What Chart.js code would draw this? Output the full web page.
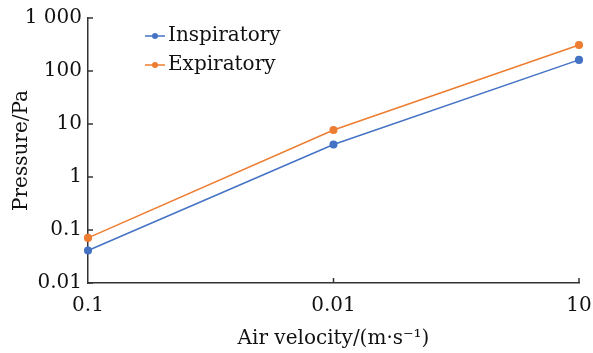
<!DOCTYPE html>
<html>
<head>
<meta charset="utf-8">
<script src="https://cdn.jsdelivr.net/npm/chart.js@4/dist/chart.umd.min.js"></script>
<style>
  html, body { margin: 0; padding: 0; background: #fff; }
  #wrap { width: 593px; height: 353px; }
</style>
</head>
<body>
<div id="wrap"><canvas id="c"></canvas></div>
<script>
// valores
const categories = ['0.1', '0.01', '10'];
const inspiratory = [0.041, 4.1, 162];
const expiratory = [0.071, 7.7, 310];
const yTicks = [0.01, 0.1, 1, 10, 100, 1000];
const yTickLabels = ['0.01', '0.1', '1', '10', '100', '1 000'];

const FONT = 'DejaVu Serif';
const AXIS = '#333333';

// ticks para dentro + legenda dentro da área do gráfico
const extras = {
  id: 'extras',
  afterDraw(chart) {
    const { ctx, chartArea, scales } = chart;
    ctx.save();
    ctx.strokeStyle = AXIS;
    ctx.lineWidth = 1.5;
    yTicks.forEach(v => {
      const y = scales.y.getPixelForValue(v);
      ctx.beginPath(); ctx.moveTo(chartArea.left, y); ctx.lineTo(chartArea.left + 5, y); ctx.stroke();
    });
    categories.forEach((c, i) => {
      if (i === 0) return;
      const x = scales.x.getPixelForValue(i);
      ctx.beginPath(); ctx.moveTo(x, chartArea.bottom); ctx.lineTo(x, chartArea.bottom - 5); ctx.stroke();
    });

    const lx = chartArea.left + 57, ly = chartArea.top + 18;
    ctx.font = `20px '${FONT}'`;
    ctx.textBaseline = 'middle';
    chart.data.datasets.forEach((ds, i) => {
      const y = ly + i * 29;
      ctx.strokeStyle = ds.borderColor;
      ctx.lineWidth = 1.5;
      ctx.beginPath(); ctx.moveTo(lx, y); ctx.lineTo(lx + 20, y); ctx.stroke();
      ctx.fillStyle = ds.borderColor;
      ctx.beginPath(); ctx.arc(lx + 10, y, 3, 0, Math.PI * 2); ctx.fill();
      ctx.fillStyle = '#111';
      ctx.fillText(ds.label, lx + 23, y);
    });
    ctx.restore();
  }
};

new Chart(document.getElementById('c').getContext('2d'), {
  type: 'line',
  data: {
    labels: categories,
    datasets: [
      { label: 'Inspiratory', data: inspiratory, borderColor: '#4472C4', backgroundColor: '#4472C4', borderWidth: 1.5, pointRadius: 3.3, pointHoverRadius: 3.3, tension: 0 },
      { label: 'Expiratory', data: expiratory, borderColor: '#ED7D31', backgroundColor: '#ED7D31', borderWidth: 1.5, pointRadius: 3.3, pointHoverRadius: 3.3, tension: 0 },
    ],
  },
  options: {
    responsive: true, maintainAspectRatio: false, animation: false,
    layout: { padding: { top: 15, right: 14, left: 0, bottom: 0 } },
    plugins: { legend: { display: false }, tooltip: { enabled: false } },
    scales: {
      x: {
        type: 'category', offset: false,
        grid: { display: true, drawOnChartArea: false, drawTicks: false },
        border: { display: true, color: AXIS, width: 1.5 },
        ticks: { color: '#111', font: { family: FONT, size: 20 }, padding: 11, maxRotation: 0, autoSkip: false },
        title: { display: true, text: 'Air velocity/(m·s⁻¹)', color: '#111', font: { family: FONT, size: 20 }, padding: { top: 0, bottom: 2 } },
        afterFit: s => { s.height = 70; s.paddingLeft = 0; s.paddingRight = 0; },
      },
      y: {
        type: 'logarithmic', min: 0.01, max: 1000,
        afterBuildTicks: s => { s.ticks = yTicks.map(v => ({ value: v })); },
        grid: { display: true, drawOnChartArea: false, drawTicks: false },
        border: { display: true, color: AXIS, width: 1.5 },
        ticks: { color: '#111', font: { family: FONT, size: 20 }, padding: 6, callback: v => yTickLabels[yTicks.indexOf(v)] ?? '' },
        title: { display: true, text: 'Pressure/Pa', color: '#111', font: { family: FONT, size: 20 }, padding: { top: 10, bottom: 0 } },
        afterFit: s => { s.width = 88; },
      },
    },
  },
  plugins: [extras],
});
</script>
</body>
</html>
